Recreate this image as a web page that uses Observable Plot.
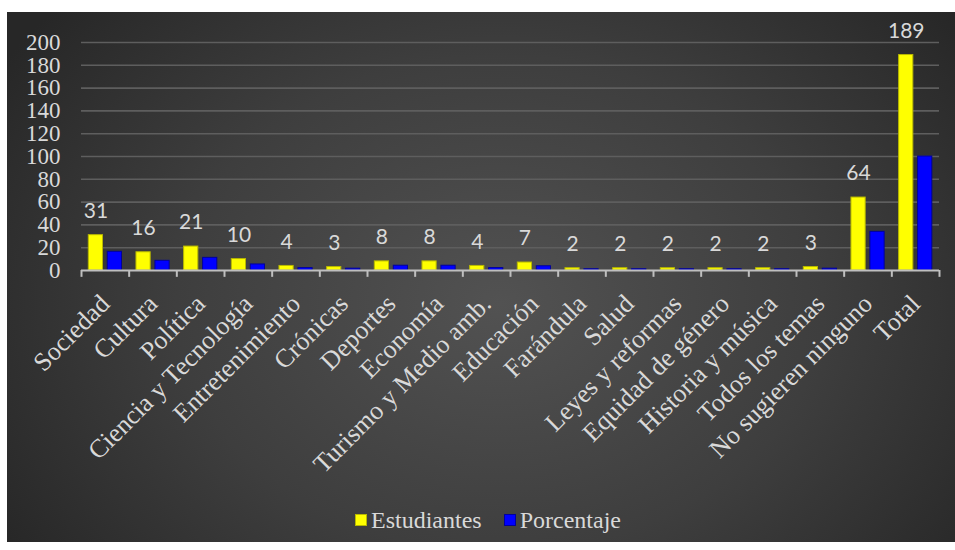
<!DOCTYPE html>
<html>
<head>
<meta charset="utf-8">
<script src="https://cdn.jsdelivr.net/npm/d3@7"></script>
<script src="https://cdn.jsdelivr.net/npm/@observablehq/plot@0.6"></script>
<style>
  html, body { margin: 0; padding: 0; background: #ffffff; }
  #panel {
    position: absolute; left: 7px; top: 12px; width: 948px; height: 530px;
    background: radial-gradient(ellipse 62% 85% at 52% 55%, #525252 0%, #3e3e3e 55%, #272727 100%);
    overflow: hidden;
  }
  #legend {
    position: absolute; left: 0; top: 488px; width: 948px; height: 40px;
    display: flex; justify-content: center; align-items: center;
    font-family: "Liberation Serif", "Times New Roman", serif; font-size: 24px; color: #d9d9d9;
    padding-left: 14px; box-sizing: border-box;
  }
  .item { display: flex; align-items: center; margin: 0 11px; }
  .sw { width: 12px; height: 12px; margin-right: 4px; box-sizing: border-box; }
</style>
</head>
<body>
<div id="panel">
  <div id="chart"></div>
  <div id="legend"></div>
</div>
<script>
const categorias = ["Sociedad", "Cultura", "Política", "Ciencia y Tecnología", "Entretenimiento", "Crónicas", "Deportes", "Economía", "Turismo y Medio amb.", "Educación", "Farándula", "Salud", "Leyes y reformas", "Equidad de género", "Historia y música", "Todos los temas", "No sugieren ninguno", "Total"];
const estudiantes = [31, 16, 21, 10, 4, 3, 8, 8, 4, 7, 2, 2, 2, 2, 2, 3, 64, 189];
const porcentaje = [16.4, 8.5, 11.1, 5.3, 2.1, 1.6, 4.2, 4.2, 2.1, 3.7, 1.1, 1.1, 1.1, 1.1, 1.1, 1.6, 33.9, 100];
const yTicks = [0, 20, 40, 60, 80, 100, 120, 140, 160, 180, 200];
const series = ["Estudiantes", "Porcentaje"];
const colores = ["#ffff00", "#0000ff"];
const bordes = ["#b8b800", "#00009c"];

const datos = categorias.map((c, i) => ({cat: c, est: estudiantes[i], por: porcentaje[i]}));

const W = 948, H = 494, mL = 74, mR = 16, mT = 30, mB = 236;
const bw = (W - mL - mR) / categorias.length;
const yellowL = 0.153 * bw, barW = 0.298 * bw, gap = 0.1 * bw;
const blueL = yellowL + barW + gap;
const serif = "Liberation Serif";

const chart = Plot.plot({
  width: W, height: H,
  marginLeft: mL, marginRight: mR, marginTop: mT, marginBottom: mB,
  style: {background: "transparent", color: "#d9d9d9", overflow: "visible"},
  x: {domain: categorias, padding: 0, round: false, label: null},
  y: {domain: [0, 200], label: null, axis: null},
  marks: [
    Plot.gridY(yTicks.slice(1), {stroke: "#5e5e5e", strokeOpacity: 1, strokeWidth: 1.6}),
    Plot.text(yTicks, {y: d => d, text: d => String(d), frameAnchor: "left", textAnchor: "end", dx: -21, fontSize: 23, fontFamily: serif, fill: "#d9d9d9"}),
    Plot.axisX({tickSize: 0, tickPadding: 29, tickRotate: -45, fontSize: 26, fontFamily: serif, fill: "#d9d9d9", label: null}),
    Plot.barY(datos, {x: "cat", y: "est", fill: colores[0], stroke: bordes[0], strokeWidth: 1, insetLeft: yellowL, insetRight: bw - yellowL - barW}),
    Plot.barY(datos, {x: "cat", y: "por", fill: colores[1], stroke: bordes[1], strokeWidth: 1, insetLeft: blueL, insetRight: bw - blueL - barW}),
    Plot.ruleY([0], {stroke: "#bfbfbf", strokeWidth: 2}),
    Plot.ruleX(categorias, {x: d => d, dx: -bw / 2, y1: 0, y2: -6, stroke: "#bfbfbf", strokeWidth: 2}),
    Plot.ruleX([categorias[categorias.length - 1]], {x: d => d, dx: bw / 2, y1: 0, y2: -6, stroke: "#bfbfbf", strokeWidth: 2}),
    Plot.text(datos, {x: "cat", y: "est", text: d => String(d.est), dy: -24, dx: yellowL + barW / 2 - bw / 2, fill: "#d9d9d9", fontSize: 21, fontFamily: "Lato"})
  ]
});
document.getElementById("chart").appendChild(chart);

const legend = document.getElementById("legend");
series.forEach((s, i) => {
  const item = document.createElement("div");
  item.className = "item";
  const sw = document.createElement("div");
  sw.className = "sw";
  sw.style.background = colores[i];
  sw.style.border = "1px solid " + bordes[i];
  const t = document.createElement("span");
  t.textContent = s;
  item.appendChild(sw);
  item.appendChild(t);
  legend.appendChild(item);
});
</script>
</body>
</html>
